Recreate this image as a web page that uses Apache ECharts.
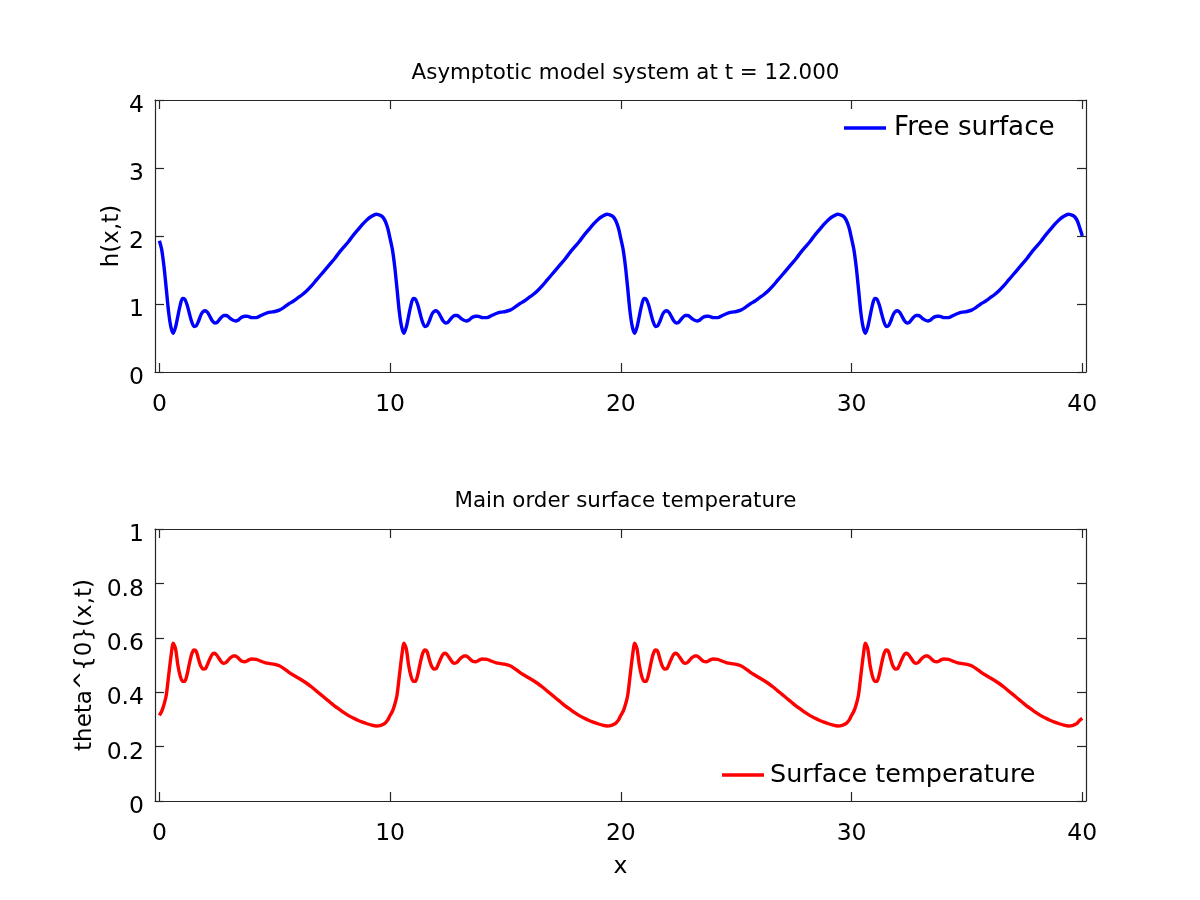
<!DOCTYPE html>
<html>
<head>
<meta charset="utf-8">
<script src="https://cdn.jsdelivr.net/npm/echarts@6/dist/echarts.min.js"></script>
<style>html,body{margin:0;padding:0;background:#fff}#c{width:1200px;height:900px}</style>
</head>
<body>
<div id="c"></div>
<script>
// x positions (four periods)
const xA = [0,0.1,0.2,0.3,0.4,0.5,0.6,0.7,0.8,0.9,1,1.1,1.2,1.3,1.4,1.5,1.6,1.7,1.8,1.9,2,2.1,2.2,2.3,2.4,2.5,2.6,2.7,2.8,2.9,3,3.1,3.2,3.3,3.4,3.5,3.6,3.7,3.8,3.9,4,4.2,4.4,4.6,4.8,5,5.2,5.4,5.6,5.8,6,6.2,6.4,6.6,6.8,7,7.2,7.4,7.6,7.8,8,8.2,8.4,8.6,8.8,9,9.2,9.4,9.6,9.7,9.8,9.9];
const xB = [10,10.1,10.2,10.3,10.4,10.5,10.6,10.7,10.8,10.9,11,11.1,11.2,11.3,11.4,11.5,11.6,11.7,11.8,11.9,12,12.1,12.2,12.3,12.4,12.5,12.6,12.7,12.8,12.9,13,13.1,13.2,13.3,13.4,13.5,13.6,13.7,13.8,13.9,14,14.2,14.4,14.6,14.8,15,15.2,15.4,15.6,15.8,16,16.2,16.4,16.6,16.8,17,17.2,17.4,17.6,17.8,18,18.2,18.4,18.6,18.8,19,19.2,19.4,19.6,19.7,19.8,19.9];
const xC = [20,20.1,20.2,20.3,20.4,20.5,20.6,20.7,20.8,20.9,21,21.1,21.2,21.3,21.4,21.5,21.6,21.7,21.8,21.9,22,22.1,22.2,22.3,22.4,22.5,22.6,22.7,22.8,22.9,23,23.1,23.2,23.3,23.4,23.5,23.6,23.7,23.8,23.9,24,24.2,24.4,24.6,24.8,25,25.2,25.4,25.6,25.8,26,26.2,26.4,26.6,26.8,27,27.2,27.4,27.6,27.8,28,28.2,28.4,28.6,28.8,29,29.2,29.4,29.6,29.7,29.8,29.9];
const xD = [30,30.1,30.2,30.3,30.4,30.5,30.6,30.7,30.8,30.9,31,31.1,31.2,31.3,31.4,31.5,31.6,31.7,31.8,31.9,32,32.1,32.2,32.3,32.4,32.5,32.6,32.7,32.8,32.9,33,33.1,33.2,33.3,33.4,33.5,33.6,33.7,33.8,33.9,34,34.2,34.4,34.6,34.8,35,35.2,35.4,35.6,35.8,36,36.2,36.4,36.6,36.8,37,37.2,37.4,37.6,37.8,38,38.2,38.4,38.6,38.8,39,39.2,39.4,39.6,39.7,39.8,39.9,40];

// free surface h(x,t)
const hA = [1.93,1.80,1.55,1.22,0.88,0.66,0.57,0.66,0.82,0.98,1.08,1.07,0.99,0.86,0.74,0.67,0.68,0.75,0.84,0.89,0.90,0.87,0.81,0.75,0.72,0.73,0.77,0.81,0.83,0.83,0.81,0.78,0.76,0.75,0.76,0.79,0.81,0.82,0.82,0.81,0.80,0.80,0.83,0.86,0.88,0.89,0.91,0.95,1.00,1.04,1.09,1.14,1.20,1.27,1.35,1.43,1.51,1.59,1.67,1.76,1.84,1.92,2.01,2.09,2.17,2.24,2.29,2.32,2.30,2.27,2.21,2.11];
const hB = [1.96,1.80,1.55,1.22,0.88,0.66,0.57,0.66,0.82,0.98,1.08,1.07,0.99,0.86,0.74,0.67,0.68,0.75,0.84,0.89,0.90,0.87,0.81,0.75,0.72,0.73,0.77,0.81,0.83,0.83,0.81,0.78,0.76,0.75,0.76,0.79,0.81,0.82,0.82,0.81,0.80,0.80,0.83,0.86,0.88,0.89,0.91,0.95,1.00,1.04,1.09,1.14,1.20,1.27,1.35,1.43,1.51,1.59,1.67,1.76,1.84,1.92,2.01,2.09,2.17,2.24,2.29,2.32,2.30,2.27,2.21,2.11];
const hC = [1.96,1.80,1.55,1.22,0.88,0.66,0.57,0.66,0.82,0.98,1.08,1.07,0.99,0.86,0.74,0.67,0.68,0.75,0.84,0.89,0.90,0.87,0.81,0.75,0.72,0.73,0.77,0.81,0.83,0.83,0.81,0.78,0.76,0.75,0.76,0.79,0.81,0.82,0.82,0.81,0.80,0.80,0.83,0.86,0.88,0.89,0.91,0.95,1.00,1.04,1.09,1.14,1.20,1.27,1.35,1.43,1.51,1.59,1.67,1.76,1.84,1.92,2.01,2.09,2.17,2.24,2.29,2.32,2.30,2.27,2.21,2.11];
const hD = [1.96,1.80,1.55,1.22,0.88,0.66,0.57,0.66,0.82,0.98,1.08,1.07,0.99,0.86,0.74,0.67,0.68,0.75,0.84,0.89,0.90,0.87,0.81,0.75,0.72,0.73,0.77,0.81,0.83,0.83,0.81,0.78,0.76,0.75,0.76,0.79,0.81,0.82,0.82,0.81,0.80,0.80,0.83,0.86,0.88,0.89,0.91,0.95,1.00,1.04,1.09,1.14,1.20,1.27,1.35,1.43,1.51,1.59,1.67,1.76,1.84,1.92,2.01,2.09,2.17,2.24,2.29,2.32,2.30,2.27,2.21,2.11,2.00];

// surface temperature theta^{0}(x,t)
const tA = [0.315,0.33,0.355,0.39,0.46,0.53,0.58,0.56,0.50,0.46,0.44,0.44,0.465,0.505,0.54,0.555,0.55,0.52,0.495,0.485,0.487,0.505,0.525,0.54,0.543,0.535,0.522,0.51,0.506,0.51,0.52,0.528,0.533,0.533,0.527,0.519,0.513,0.512,0.515,0.52,0.522,0.521,0.514,0.508,0.505,0.502,0.497,0.487,0.474,0.463,0.453,0.443,0.432,0.419,0.405,0.391,0.377,0.363,0.349,0.337,0.325,0.314,0.305,0.297,0.290,0.284,0.279,0.276,0.278,0.282,0.288,0.298];
const tB = [0.315,0.33,0.355,0.39,0.46,0.53,0.58,0.56,0.50,0.46,0.44,0.44,0.465,0.505,0.54,0.555,0.55,0.52,0.495,0.485,0.487,0.505,0.525,0.54,0.543,0.535,0.522,0.51,0.506,0.51,0.52,0.528,0.533,0.533,0.527,0.519,0.513,0.512,0.515,0.52,0.522,0.521,0.514,0.508,0.505,0.502,0.497,0.487,0.474,0.463,0.453,0.443,0.432,0.419,0.405,0.391,0.377,0.363,0.349,0.337,0.325,0.314,0.305,0.297,0.290,0.284,0.279,0.276,0.278,0.282,0.288,0.298];
const tC = [0.315,0.33,0.355,0.39,0.46,0.53,0.58,0.56,0.50,0.46,0.44,0.44,0.465,0.505,0.54,0.555,0.55,0.52,0.495,0.485,0.487,0.505,0.525,0.54,0.543,0.535,0.522,0.51,0.506,0.51,0.52,0.528,0.533,0.533,0.527,0.519,0.513,0.512,0.515,0.52,0.522,0.521,0.514,0.508,0.505,0.502,0.497,0.487,0.474,0.463,0.453,0.443,0.432,0.419,0.405,0.391,0.377,0.363,0.349,0.337,0.325,0.314,0.305,0.297,0.290,0.284,0.279,0.276,0.278,0.282,0.288,0.298];
const tD = [0.315,0.33,0.355,0.39,0.46,0.53,0.58,0.56,0.50,0.46,0.44,0.44,0.465,0.505,0.54,0.555,0.55,0.52,0.495,0.485,0.487,0.505,0.525,0.54,0.543,0.535,0.522,0.51,0.506,0.51,0.52,0.528,0.533,0.533,0.527,0.519,0.513,0.512,0.515,0.52,0.522,0.521,0.514,0.508,0.505,0.502,0.497,0.487,0.474,0.463,0.453,0.443,0.432,0.419,0.405,0.391,0.377,0.363,0.349,0.337,0.325,0.314,0.305,0.297,0.290,0.284,0.279,0.276,0.278,0.282,0.288,0.298,0.304];

const xTicks = [0,10,20,30,40];
const hTicks = [0,1,2,3,4];
const tTicks = [0,0.2,0.4,0.6,0.8,1];

const xs = xA.concat(xB, xC, xD);
const hs = hA.concat(hB, hC, hD);
const ts = tA.concat(tB, tC, tD);
const hData = xs.map((x, i) => [x, hs[i]]);
const tData = xs.map((x, i) => [x, ts[i]]);

const FONT = 'DejaVu Sans';
const AX = '#262626';

function xAx(grid, pos, showLabel, name) {
  return {
    type: 'value', gridIndex: grid, position: pos, min: -0.19, max: 40.16,
    axisLine: {show: true, onZero: false, lineStyle: {color: AX, width: 1.2}},
    axisTick: {show: true, inside: true, length: 9, customValues: xTicks, lineStyle: {color: AX, width: 1.2}},
    axisLabel: {show: showLabel, customValues: xTicks, margin: 21, color: '#000', fontFamily: FONT, fontSize: 23.5},
    splitLine: {show: false},
    name: name || '', nameLocation: 'middle', nameGap: 54, nameMoveOverlap: false,
    nameTextStyle: {color: '#000', fontFamily: FONT, fontSize: 23.5}
  };
}
function yAx(grid, pos, min, max, interval, ticks, showLabel, name, gap) {
  return {
    type: 'value', gridIndex: grid, position: pos, min: min, max: max, interval: interval,
    axisLine: {show: true, onZero: false, lineStyle: {color: AX, width: 1.2}},
    axisTick: {show: true, inside: true, length: 9, customValues: ticks, lineStyle: {color: AX, width: 1.2}},
    axisLabel: {show: showLabel, customValues: ticks, margin: 11, verticalAlign: 'top', lineHeight: 12,
                color: '#000', fontFamily: FONT, fontSize: 23.5},
    splitLine: {show: false},
    name: name || '', nameLocation: 'middle', nameGap: gap || 0, nameRotate: 90, nameMoveOverlap: false,
    nameTextStyle: {color: '#000', fontFamily: FONT, fontSize: 23}
  };
}

const chart = echarts.init(document.getElementById('c'), null, {renderer: 'canvas'});
chart.setOption({
  animation: false,
  backgroundColor: '#fff',
  title: [
    {text: 'Asymptotic model system at t = 12.000', left: 620.5, top: 58, textAlign: 'center',
     textStyle: {fontFamily: FONT, fontSize: 21.4, fontWeight: 'normal', color: '#000'}},
    {text: 'Main order surface temperature', left: 620.5, top: 486, textAlign: 'center',
     textStyle: {fontFamily: FONT, fontSize: 21.4, fontWeight: 'normal', color: '#000'}}
  ],
  grid: [
    {left: 155, top: 100, width: 931, height: 272},
    {left: 155, top: 529, width: 931, height: 272}
  ],
  xAxis: [
    xAx(0, 'bottom', true),
    xAx(0, 'top', false),
    xAx(1, 'bottom', true, 'x'),
    xAx(1, 'top', false)
  ],
  yAxis: [
    yAx(0, 'left', 0, 4, 1, hTicks, true, 'h(x,t)', 31),
    yAx(0, 'right', 0, 4, 1, hTicks, false),
    yAx(1, 'left', 0, 1, 0.2, tTicks, true, 'theta^{0}(x,t)', 58),
    yAx(1, 'right', 0, 1, 0.2, tTicks, false)
  ],
  legend: [
    {data: ['Free surface'], left: 844, top: 114, padding: 0, icon: 'rect', itemWidth: 42, itemHeight: 3.5,
     textStyle: {fontFamily: FONT, fontSize: 26.2, color: '#000', padding: [0,0,0,3], lineHeight: 28}},
    {data: ['Surface temperature'], left: 722, top: 761, padding: 0, icon: 'rect', itemWidth: 42, itemHeight: 3.5,
     textStyle: {fontFamily: FONT, fontSize: 25.5, color: '#000', padding: [0,0,0,1], lineHeight: 28}}
  ],
  series: [
    {name: 'Free surface', type: 'line', xAxisIndex: 0, yAxisIndex: 0, data: hData,
     showSymbol: false, symbol: 'none', smooth: 0.25, color: '#0000ff',
     lineStyle: {color: '#0000ff', width: 3.4}},
    {name: 'Surface temperature', type: 'line', xAxisIndex: 2, yAxisIndex: 2, data: tData,
     showSymbol: false, symbol: 'none', smooth: 0.25, color: '#ff0000',
     lineStyle: {color: '#ff0000', width: 3.4}}
  ]
});
</script>
</body>
</html>
